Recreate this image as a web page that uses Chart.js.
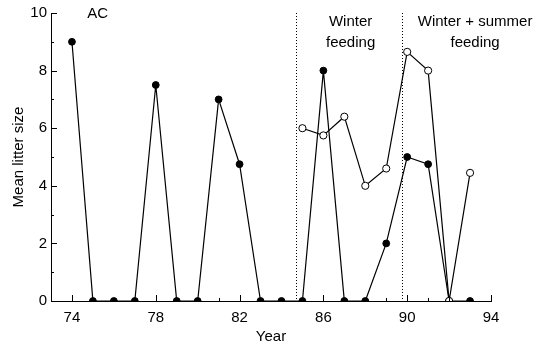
<!DOCTYPE html>
<html>
<head>
<meta charset="utf-8">
<script src="https://cdn.jsdelivr.net/npm/chart.js@4/dist/chart.umd.min.js"></script>
<style>
html,body{margin:0;padding:0;background:#fff;}
#wrap{width:544px;height:347px;position:relative;}
</style>
</head>
<body>
<div id="wrap"><canvas id="c" width="544" height="347"></canvas></div>
<script>
// Data
const yearsFilled = [74,75,76,77,78,79,80,81,82,83,84,85,86,87,88,89,90,91,92,93];
const litterFilled = [9,0,0,0,7.5,0,0,7,4.75,0,0,0,8,0,0,2,5,4.75,0,0];
const yearsOpen = [85,86,87,88,89,90,91,92,93];
const litterOpen = [6,5.75,6.4,4,4.6,8.65,8,0,4.45];
const xTickLabels = [74,78,82,86,90,94];
const yTickLabels = [0,2,4,6,8,10];
const periodBoundaries = [84.7, 89.75];

const FONT = "'Liberation Sans', Arial, Helvetica, sans-serif";

const toXY = (xs, ys) => xs.map((x,i)=>({x:x, y:ys[i]}));

const decor = {
  id:'decor',
  afterDraw(chart){
    const ctx = chart.ctx;
    const xs = chart.scales.x, ys = chart.scales.y;
    const top = ys.getPixelForValue(10), bot = ys.getPixelForValue(0);
    const left = xs.getPixelForValue(73), right = xs.getPixelForValue(94);
    ctx.save();
    ctx.strokeStyle = '#000';
    ctx.lineWidth = 1;
    // x ticks (inward)
    for (let v=74; v<=94; v++){
      const px = Math.round(xs.getPixelForValue(v))+0.5;
      const len = xTickLabels.includes(v) ? 6 : 3;
      ctx.beginPath(); ctx.moveTo(px, bot); ctx.lineTo(px, bot-len); ctx.stroke();
    }
    // y ticks (inward)
    for (let v=1; v<=10; v++){
      const py = Math.round(ys.getPixelForValue(v))+0.5;
      const len = yTickLabels.includes(v) ? 6 : 3;
      ctx.beginPath(); ctx.moveTo(left, py); ctx.lineTo(left+len, py); ctx.stroke();
    }
    // dotted boundaries
    ctx.setLineDash([1,2]);
    periodBoundaries.forEach(b=>{
      const px = Math.round(xs.getPixelForValue(b))+0.5;
      ctx.beginPath(); ctx.moveTo(px, top); ctx.lineTo(px, bot); ctx.stroke();
    });
    ctx.setLineDash([]);
    // annotations
    ctx.fillStyle = '#000';
    ctx.font = '15px ' + FONT;
    ctx.textBaseline = 'middle';
    ctx.textAlign = 'left';
    ctx.fillText('AC', xs.getPixelForValue(74.73), ys.getPixelForValue(9.98));
    ctx.textAlign = 'center';
    ctx.fillText('Winter', xs.getPixelForValue(87.3), ys.getPixelForValue(9.69));
    ctx.fillText('feeding', xs.getPixelForValue(87.3), ys.getPixelForValue(8.95));
    ctx.fillText('Winter + summer', xs.getPixelForValue(93.24), ys.getPixelForValue(9.69));
    ctx.fillText('feeding', xs.getPixelForValue(93.24), ys.getPixelForValue(8.95));
    ctx.restore();
  }
};

new Chart(document.getElementById('c'), {
  type:'line',
  data:{
    datasets:[
      {
        label:'open',
        data: toXY(yearsOpen, litterOpen),
        borderColor:'#000', borderWidth:1.2,
        pointBackgroundColor:'#fff', pointBorderColor:'#000', pointBorderWidth:1,
        pointRadius:3.6, tension:0, order:0
      },
      {
        label:'filled',
        data: toXY(yearsFilled, litterFilled),
        borderColor:'#000', borderWidth:1.2,
        pointBackgroundColor:'#000', pointBorderColor:'#000', pointBorderWidth:1,
        pointRadius:3.4, tension:0, order:1
      }
    ]
  },
  options:{
    responsive:false,
    animation:false,
    devicePixelRatio:1,
    layout:{padding:{top:13, right:53, left:0, bottom:0}},
    plugins:{legend:{display:false}, tooltip:{enabled:false}},
    scales:{
      x:{
        type:'linear', min:73, max:94,
        afterBuildTicks(s){ s.ticks = xTickLabels.map(v=>({value:v})); },
        afterFit(s){ s.height = 46; },
        grid:{display:false, drawTicks:false},
        border:{display:true, color:'#000', width:1},
        ticks:{color:'#000', font:{family:FONT, size:15}, padding:8, maxRotation:0, autoSkip:false},
        title:{display:true, text:'Year', color:'#000', font:{family:FONT, size:15}, padding:{top:0,bottom:1}}
      },
      y:{
        min:0, max:10,
        afterBuildTicks(s){ s.ticks = yTickLabels.map(v=>({value:v})); },
        afterFit(s){ s.width = 51; },
        grid:{display:false, drawTicks:false},
        border:{display:true, color:'#000', width:1},
        ticks:{color:'#000', font:{family:FONT, size:15}, padding:4},
        title:{display:true, text:'Mean litter size', color:'#000', font:{family:FONT, size:15}, padding:{top:10,bottom:0}}
      }
    }
  },
  plugins:[decor]
});
</script>
</body>
</html>
